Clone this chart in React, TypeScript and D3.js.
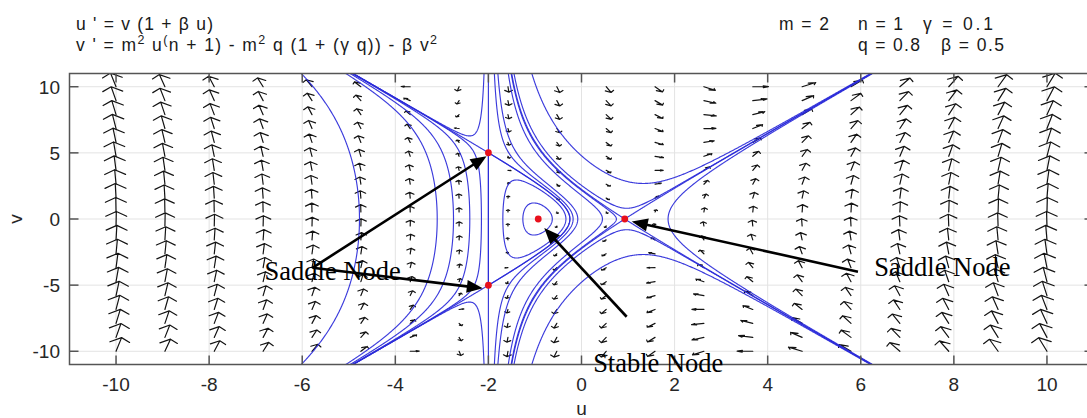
import React, { useMemo } from "react";
import * as d3 from "d3";

const WIDTH = 1087;
const HEIGHT = 418;

// Model parameters:  u' = v (1 + β u),  v' = m² u^(n+1) − m² q (1 + γ q) − β v²
const M = 2;
const N = 1;
const GAMMA = 0.1;
const Q = 0.8;
const BETA = 0.5;

const X_TICKS = [-10, -8, -6, -4, -2, 0, 2, 4, 6, 8, 10];
const Y_TICKS = [-10, -5, 0, 5, 10];
const X_DOMAIN: [number, number] = [-11, 11];
const Y_DOMAIN: [number, number] = [-11, 11];

// Quiver mesh (20 × 20)
const GRID_U = [-10, -8.95, -7.89, -6.84, -5.79, -4.74, -3.68, -2.63, -1.58, -0.53, 0.53, 1.58, 2.63, 3.68, 4.74, 5.79, 6.84, 7.89, 8.95, 10];
const GRID_V = [-10, -8.95, -7.89, -6.84, -5.79, -4.74, -3.68, -2.63, -1.58, -0.53, 0.53, 1.58, 2.63, 3.68, 4.74, 5.79, 6.84, 7.89, 8.95, 10];

// Streamline seeds on the u axis (v = 0)
const AXIS_SEEDS_U = [-4.77, -3.1, -2.75, -2.4, -2.15, -1.69, -1.26, -0.18, -0.08, 0.45, 0.75, 1.86];
// Streamline seeds away from the axis
const OFF_AXIS_SEEDS: [number, number][] = [
  [-2.29, 6.44],
  [-2.29, -6.44],
  [1.1, 2.75],
  [1.1, -2.75],
  [1.1, 0.86],
  [1.1, -0.86],
];

// Annotation arrows: [startU, startV, tipU, tipV]
const ANNOTATION_ARROWS: [number, number, number, number][] = [
  [-5.78, -3.69, -2.04, 4.75],
  [-5.78, -3.69, -2.12, -5.24],
  [5.94, -3.98, 1.08, -0.18],
  [0.97, -7.39, -0.8, -0.68],
];
// Annotation labels: [text, u, v]
const ANNOTATION_LABELS: [string, number, number][] = [
  ["Saddle Node", -6.81, -4.6],
  ["Saddle Node", 6.29, -4.3],
  ["Stable Node", 0.25, -11.55],
];

// Parameter read-out: [text, x, baseline, width]
const PARAM_LABELS: [string, number, number, number][] = [
  ["m = 2", 779, 29.5, 50],
  ["n = 1", 858, 29.5, 45],
  ["γ = 0.1", 923, 29.5, 70],
  ["q = 0.8", 858, 50.5, 62],
  ["β = 0.5", 941, 50.5, 63],
];

const SANS = "'Liberation Sans', Arial, Helvetica, sans-serif";
const SERIF = "'Liberation Serif', 'Times New Roman', serif";

function field(u: number, v: number): [number, number] {
  return [
    v * (1 + BETA * u),
    M * M * Math.pow(u, N + 1) - M * M * Q * (1 + GAMMA * Q) - BETA * v * v,
  ];
}

function jacobian(u: number, v: number): number[][] {
  return [
    [BETA * v, 1 + BETA * u],
    [M * M * (N + 1) * Math.pow(u, N), -2 * BETA * v],
  ];
}

function equilibria(): [number, number][] {
  const c = Q * (1 + GAMMA * Q);
  const uAxis = Math.pow(c, 1 / (N + 1));
  const uLine = -1 / BETA;
  const vLine = Math.sqrt((M * M * Math.pow(uLine, N + 1) - M * M * c) / BETA);
  return [
    [uLine, vLine],
    [uLine, -vLine],
    [-uAxis, 0],
    [uAxis, 0],
  ];
}

export default function App() {
  const x = d3.scaleLinear().domain(X_DOMAIN).range([69.5, 1093.5]);
  const y = d3.scaleLinear().domain(Y_DOMAIN).range([364.5, 73.5]);
  const kx = Math.abs(x(1) - x(0));
  const ky = Math.abs(y(1) - y(0));

  const eqs = useMemo(() => equilibria(), []);

  const streamlines = useMemo(() => {
    const pxDist = (u1: number, v1: number, u2: number, v2: number) =>
      Math.hypot((u1 - u2) * kx, (v1 - v2) * ky);

    const dir = (u: number, v: number, s: number): [number, number] => {
      const [a, b] = field(u, v);
      const n = Math.hypot(a * kx, b * ky) || 1e-12;
      return [(s * a) / n, (s * b) / n];
    };

    const trace = (u0: number, v0: number, s: number) => {
      const pts: [number, number][] = [[u0, v0]];
      let u = u0;
      let v = v0;
      const h = 0.6;
      let closed = false;
      for (let i = 0; i < 7000; i++) {
        const k1 = dir(u, v, s);
        const k2 = dir(u + (h / 2) * k1[0], v + (h / 2) * k1[1], s);
        const k3 = dir(u + (h / 2) * k2[0], v + (h / 2) * k2[1], s);
        const k4 = dir(u + h * k3[0], v + h * k3[1], s);
        u += (h / 6) * (k1[0] + 2 * k2[0] + 2 * k3[0] + k4[0]);
        v += (h / 6) * (k1[1] + 2 * k2[1] + 2 * k3[1] + k4[1]);
        pts.push([u, v]);
        if (Math.abs(u) > 11.6 || Math.abs(v) > 11.6) break;
        if (eqs.some(([eu, ev]) => pxDist(u, v, eu, ev) < 1.0)) break;
        if (i > 40 && pxDist(u, v, u0, v0) < 0.7) {
          pts.push([u0, v0]);
          closed = true;
          break;
        }
      }
      return { pts, closed };
    };

    const full = (u0: number, v0: number) => {
      const fwd = trace(u0, v0, 1);
      if (fwd.closed) return fwd.pts;
      const bwd = trace(u0, v0, -1);
      return [...bwd.pts.slice(1).reverse(), ...fwd.pts];
    };

    const seeds: [number, number][] = [
      ...AXIS_SEEDS_U.map((u) => [u, 0] as [number, number]),
      ...OFF_AXIS_SEEDS,
    ];

    // separatrices of every saddle point
    eqs.forEach(([eu, ev]) => {
      const J = jacobian(eu, ev);
      const tr = J[0][0] + J[1][1];
      const det = J[0][0] * J[1][1] - J[0][1] * J[1][0];
      const disc = (tr * tr) / 4 - det;
      if (disc <= 0 || det >= 0) return;
      [tr / 2 + Math.sqrt(disc), tr / 2 - Math.sqrt(disc)].forEach((lam) => {
        const vec: [number, number] =
          Math.abs(J[0][1]) > 1e-9 ? [J[0][1], lam - J[0][0]] : [lam - J[1][1], J[1][0]];
        const n = Math.hypot(vec[0] * kx, vec[1] * ky);
        const d = 2.2 / n;
        seeds.push([eu + vec[0] * d, ev + vec[1] * d]);
        seeds.push([eu - vec[0] * d, ev - vec[1] * d]);
      });
    });

    const line = d3
      .line<[number, number]>()
      .x((p) => x(p[0]))
      .y((p) => y(p[1]));
    return seeds.map(([u, v]) => line(full(u, v)) || "");
  }, [eqs]);

  const quiver = useMemo(() => {
    const LMAX = 1.1;
    const POW = 0.45;
    const ALPHA = 0.33;
    const BETA_HEAD = 0.62;
    let mmax = 0;
    const cells: { u: number; v: number; a: number; b: number; m: number }[] = [];
    GRID_U.forEach((u) =>
      GRID_V.forEach((v) => {
        const [a, b] = field(u, v);
        const m = Math.hypot(a, b);
        mmax = Math.max(mmax, m);
        cells.push({ u, v, a, b, m });
      })
    );
    return cells
      .filter((c) => c.m > 0)
      .map(({ u, v, a, b, m }) => {
        const len = LMAX * Math.pow(m / mmax, POW);
        const du = (a / m) * len;
        const dv = (b / m) * len;
        const tu = u + du;
        const tv = v + dv;
        const w1u = tu - ALPHA * (du + BETA_HEAD * dv);
        const w1v = tv - ALPHA * (dv - BETA_HEAD * du);
        const w2u = tu - ALPHA * (du - BETA_HEAD * dv);
        const w2v = tv - ALPHA * (dv + BETA_HEAD * du);
        return `M${x(u)},${y(v)}L${x(tu)},${y(tv)}M${x(w1u)},${y(w1v)}L${x(tu)},${y(tv)}L${x(w2u)},${y(w2v)}`;
      });
  }, []);

  const left = x(X_DOMAIN[0]);
  const right = x(X_DOMAIN[1]);
  const top = y(Y_DOMAIN[1]);
  const bottom = y(Y_DOMAIN[0]);
  const axisColor = "#555555";
  const tickLen = 9;

  const annotation = ANNOTATION_ARROWS.map(([su, sv, tu, tv], i) => {
    const x0 = x(su), y0 = y(sv), x1 = x(tu), y1 = y(tv);
    const dx = x1 - x0, dy = y1 - y0;
    const L = Math.hypot(dx, dy);
    const ux = dx / L, uy = dy / L;
    const hl = 16, hw = 6.5;
    const bx = x1 - ux * hl, by = y1 - uy * hl;
    return (
      <g key={i}>
        <line x1={x0} y1={y0} x2={bx + ux * 2} y2={by + uy * 2} stroke="#000" strokeWidth={2.6} />
        <path d={`M${x1},${y1}L${bx - uy * hw},${by + ux * hw}L${bx + uy * hw},${by - ux * hw}Z`} fill="#000" />
      </g>
    );
  });

  return (
    <svg
      width={WIDTH}
      height={HEIGHT}
      style={{ position: "absolute", left: 0, top: 0, background: "#fff" }}
    >
      <defs>
        <clipPath id="plot-area">
          <rect x={left} y={top} width={right - left} height={bottom - top} />
        </clipPath>
      </defs>
      <rect x={0} y={0} width={WIDTH} height={HEIGHT} fill="#fff" />

      {/* grid */}
      <g stroke="#e3e3e3" strokeWidth={1}>
        {X_TICKS.map((t) => (
          <line key={`gx${t}`} x1={x(t)} x2={x(t)} y1={top} y2={bottom} />
        ))}
        {Y_TICKS.map((t) => (
          <line key={`gy${t}`} x1={left} x2={right} y1={y(t)} y2={y(t)} />
        ))}
      </g>

      <g clipPath="url(#plot-area)">
        {/* direction field */}
        <g stroke="#141414" strokeWidth={1.2} fill="none" strokeLinejoin="round" strokeLinecap="round">
          {quiver.map((d, i) => (
            <path key={i} d={d} />
          ))}
        </g>
        {/* trajectories */}
        <g stroke="#2a2ad9" strokeWidth={1.15} fill="none" strokeOpacity={0.92}>
          {streamlines.map((d, i) => (
            <path key={i} d={d} />
          ))}
        </g>
        {/* equilibria */}
        {eqs.map(([u, v], i) => (
          <circle key={i} cx={x(u)} cy={y(v)} r={3.4} fill="#e8101c" />
        ))}
      </g>

      {/* axes frame and ticks */}
      <g stroke={axisColor} strokeWidth={1.5} fill="none">
        <rect x={left} y={top} width={right - left} height={bottom - top} />
        {X_TICKS.map((t) => (
          <g key={`tx${t}`}>
            <line x1={x(t)} x2={x(t)} y1={bottom} y2={bottom - tickLen} />
            <line x1={x(t)} x2={x(t)} y1={top} y2={top + tickLen} />
          </g>
        ))}
        {Y_TICKS.map((t) => (
          <g key={`ty${t}`}>
            <line x1={left} x2={left + tickLen} y1={y(t)} y2={y(t)} />
            <line x1={right} x2={right - tickLen} y1={y(t)} y2={y(t)} />
          </g>
        ))}
      </g>

      {/* tick labels */}
      <g fontFamily={SANS} fontSize={19} fill="#262626">
        {X_TICKS.map((t) => (
          <text key={`lx${t}`} x={x(t)} y={391} textAnchor="middle">
            {t}
          </text>
        ))}
        {Y_TICKS.map((t) => (
          <text key={`ly${t}`} x={60} y={y(t) + 7} textAnchor="end">
            {t}
          </text>
        ))}
        <text x={x(0)} y={415} textAnchor="middle">u</text>
        <text transform={`translate(22,${y(0)}) rotate(-90)`} textAnchor="middle">v</text>
      </g>

      {/* equations and parameters */}
      <g fontFamily={SANS} fontSize={17.5} fill="#1a1a1a">
        <text x={76} y={29.5} textLength={137} lengthAdjust="spacing">u ' = v (1 + β u)</text>
        <text x={76} y={50.5} textLength={361} lengthAdjust="spacing">
          <tspan>v ' = m</tspan>
          <tspan fontSize={12.5} dy={-7}>2</tspan>
          <tspan dy={7}> u</tspan>
          <tspan fontSize={12.5} dy={-7}>(</tspan>
          <tspan dy={7}>n + 1) - m</tspan>
          <tspan fontSize={12.5} dy={-7}>2</tspan>
          <tspan dy={7}> q (1 + (γ q)) - β v</tspan>
          <tspan fontSize={12.5} dy={-7}>2</tspan>
        </text>
        {PARAM_LABELS.map(([t, px, py, w], i) => (
          <text key={i} x={px} y={py} textLength={w} lengthAdjust="spacing">
            {t}
          </text>
        ))}
      </g>

      {/* annotations */}
      {annotation}
      <g fontFamily={SERIF} fontSize={26.5} fill="#000">
        {ANNOTATION_LABELS.map(([t, u, v], i) => (
          <text key={i} x={x(u)} y={y(v)}>
            {t}
          </text>
        ))}
      </g>
    </svg>
  );
}
